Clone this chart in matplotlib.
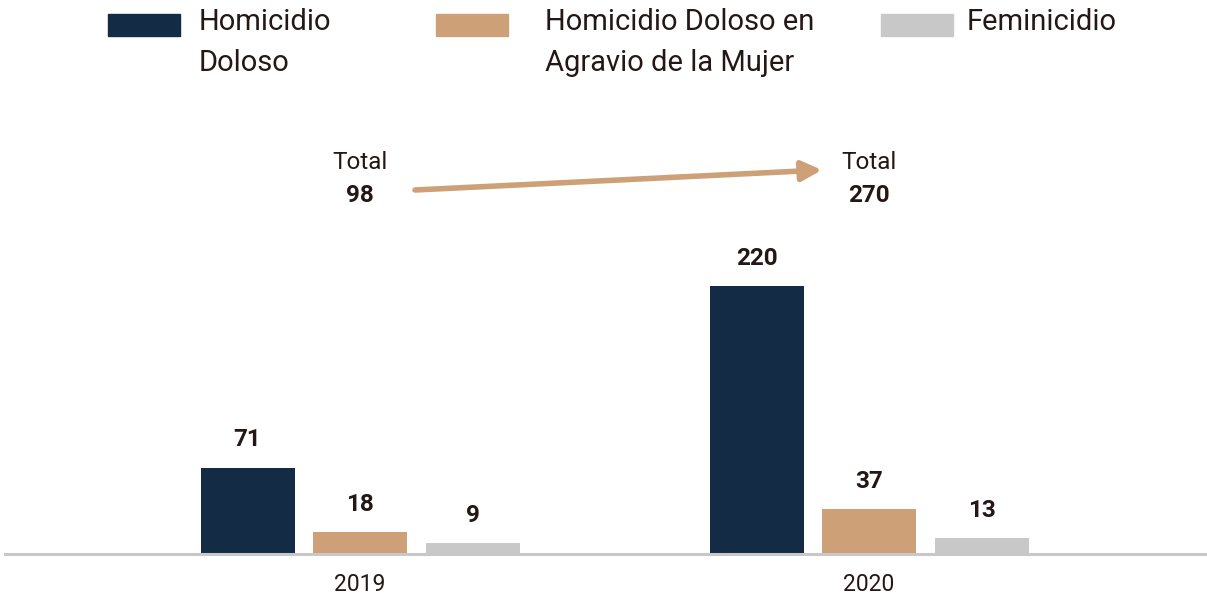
import matplotlib.pyplot as plt
from matplotlib.patches import Rectangle

years = ['2019', '2020']
series = ['Homicidio\nDoloso', 'Homicidio Doloso en\nAgravio de la Mujer', 'Feminicidio']
homicidio = [71, 220]
agravio = [18, 37]
feminicidio = [9, 13]
totals = [98, 270]

colors = ['#142b45', '#cda077', '#c8c8c8']
txt = '#231815'
plt.rcParams['font.family'] = ['Roboto', 'DejaVu Sans']

fig = plt.figure(figsize=(12.07, 5.98), dpi=100)
ax = fig.add_axes([5 / 1207, 44 / 598, 1202 / 1207, 554 / 598])

x = list(range(len(years)))
step = 112.5 / 509
width = 94 / 509
for i, vals in enumerate([homicidio, agravio, feminicidio]):
    pos = [xi + (i - 1) * step for xi in x]
    bars = ax.bar(pos, vals, width=width, color=colors[i], zorder=2)
    for b, v in zip(bars, vals):
        ax.annotate(str(v), (b.get_x() + b.get_width() / 2, v), xytext=(0, 20),
                    textcoords='offset points', ha='center', va='center',
                    fontsize=17.5, fontweight='bold', color=txt)

ax.set_xlim(-355 / 509, 1 + 338 / 509)
ax.set_ylim(0, 554 / 1.218)
for s in ['top', 'right', 'left']:
    ax.spines[s].set_visible(False)
ax.spines['bottom'].set_color('#c8c8c8')
ax.spines['bottom'].set_linewidth(2.2)
ax.set_yticks([])
ax.set_xticks(x)
ax.set_xticklabels(years, fontsize=16.5, color=txt)
ax.tick_params(axis='x', length=0, pad=14)

# totals with arrow between them
tx = [360, 869]
for px, t in zip(tx, totals):
    fig.text(px / 1207, 1 - 163 / 598, 'Total', ha='center', va='center',
             fontsize=17.5, color=txt)
    fig.text(px / 1207, 1 - 195 / 598, str(t), ha='center', va='center',
             fontsize=17.5, color=txt, fontweight='bold')
ax.annotate('', xy=(822, 598 - 170), xycoords='figure pixels',
            xytext=(415, 598 - 190), textcoords='figure pixels',
            arrowprops=dict(arrowstyle='-|>,head_length=1.2,head_width=0.6',
                            color='#cda077', lw=4, shrinkA=0, shrinkB=0))

# legend
sw_x = [108, 436, 881]
tx_x = [199, 545, 967]
for sx, lx, c, lab in zip(sw_x, tx_x, colors, series):
    fig.patches.append(Rectangle((sx / 1207, 1 - 36 / 598), 72 / 1207, 22 / 598,
                                 transform=fig.transFigure, color=c))
    fig.text(lx / 1207, 1 - 8 / 598, lab, ha='left', va='top', fontsize=21,
             color=txt, linespacing=1.6)

fig.savefig('out.png', dpi=100)
